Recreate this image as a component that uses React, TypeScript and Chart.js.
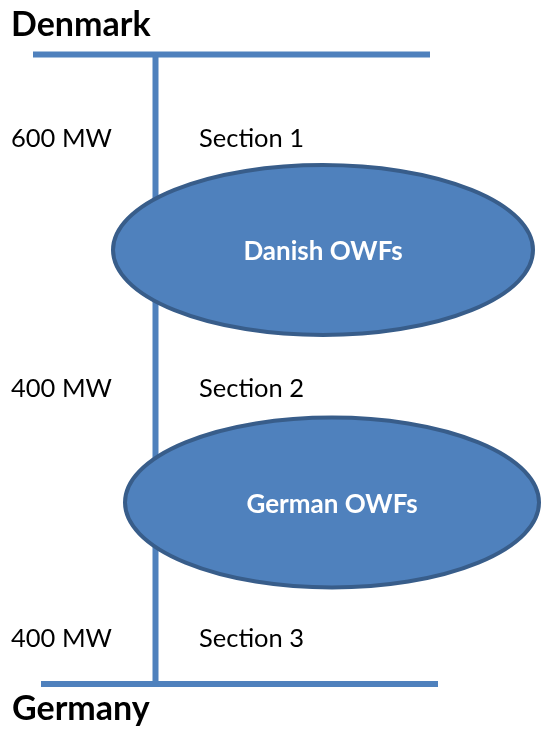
import React, { useEffect, useRef } from "react";
import { Chart, registerables } from "chart.js";

Chart.register(...registerables);

// Diagram coordinates (data units equal to page pixels)
const busNames = ["Denmark", "Germany"];
const busNameX = [11, 12];
const busNameY = [36, 720];

const denmarkBusX = [33, 430];
const denmarkBusY = [54.5, 54.5];
const germanyBusX = [41, 438];
const germanyBusY = [684, 684];
const trunkX = [155.5, 155.5];
const trunkY = [54.5, 684];

const capacityLabels = ["600 MW", "400 MW", "400 MW"];
const sectionLabels = ["Section 1", "Section 2", "Section 3"];
const rowY = [147, 397, 647];
const capacityX = 11;
const sectionX = 199;

const farmNames = ["Danish OWFs", "German OWFs"];
const farmCx = [323, 332];
const farmCy = [250, 502.5];
const farmRx = [210, 207];
const farmRy = [85, 85];

const BLUE = "#4F81BD";
const DARK = "#385D8A";
const FONT = "Lato, 'Open Sans', 'Noto Sans', sans-serif";

const overlay = {
  id: "diagramOverlay",
  afterDatasetsDraw(chart: any) {
    const { ctx, scales } = chart;
    const sx = scales.x;
    const sy = scales.y;
    ctx.save();
    // ellipses
    for (let i = 0; i < farmNames.length; i++) {
      const cx = sx.getPixelForValue(farmCx[i]);
      const cy = sy.getPixelForValue(farmCy[i]);
      const rx = Math.abs(sx.getPixelForValue(farmCx[i] + farmRx[i]) - cx);
      const ry = Math.abs(sy.getPixelForValue(farmCy[i] + farmRy[i]) - cy);
      ctx.beginPath();
      ctx.ellipse(cx, cy, rx, ry, 0, 0, Math.PI * 2);
      ctx.fillStyle = BLUE;
      ctx.fill();
      ctx.lineWidth = 4;
      ctx.strokeStyle = DARK;
      ctx.stroke();
      ctx.fillStyle = "#ffffff";
      ctx.font = `bold 26px ${FONT}`;
      ctx.textAlign = "center";
      ctx.textBaseline = "middle";
      ctx.fillText(farmNames[i], cx, cy + 2);
    }
    // labels
    ctx.fillStyle = "#000000";
    ctx.textAlign = "left";
    ctx.textBaseline = "alphabetic";
    ctx.font = `25.5px ${FONT}`;
    for (let i = 0; i < rowY.length; i++) {
      const y = sy.getPixelForValue(rowY[i]);
      ctx.fillText(capacityLabels[i], sx.getPixelForValue(capacityX), y);
      ctx.fillText(sectionLabels[i], sx.getPixelForValue(sectionX), y);
    }
    ctx.font = `bold 34px ${FONT}`;
    for (let i = 0; i < busNames.length; i++) {
      ctx.fillText(busNames[i], sx.getPixelForValue(busNameX[i]), sy.getPixelForValue(busNameY[i]));
    }
    ctx.restore();
  },
};

function pts(xs: number[], ys: number[]) {
  return xs.map((x, i) => ({ x, y: ys[i] }));
}

export default function App() {
  const ref = useRef<HTMLCanvasElement | null>(null);
  useEffect(() => {
    if (!ref.current) return;
    const lineStyle = {
      borderColor: BLUE,
      backgroundColor: BLUE,
      borderWidth: 6,
      pointRadius: 0,
      showLine: true,
      fill: false,
      borderCapStyle: "butt" as const,
    };
    const chart = new Chart(ref.current, {
      type: "scatter",
      data: {
        datasets: [
          { label: "Denmark bus", data: pts(denmarkBusX, denmarkBusY), ...lineStyle },
          { label: "Trunk", data: pts(trunkX, trunkY), ...lineStyle },
          { label: "Germany bus", data: pts(germanyBusX, germanyBusY), ...lineStyle },
        ],
      },
      options: {
        animation: false,
        responsive: false,
        maintainAspectRatio: false,
        layout: { padding: 0 },
        plugins: { legend: { display: false }, tooltip: { enabled: false } },
        events: [],
        scales: {
          x: { type: "linear", min: 0, max: 541, display: false },
          y: { type: "linear", min: 0, max: 731, reverse: true, display: false },
        },
      },
      plugins: [overlay],
    });
    return () => chart.destroy();
  }, []);
  return (
    <div style={{ position: "fixed", left: 0, top: 0, width: 541, height: 731, background: "#fff" }}>
      <canvas ref={ref} width={541} height={731} style={{ display: "block", width: 541, height: 731 }} />
    </div>
  );
}
